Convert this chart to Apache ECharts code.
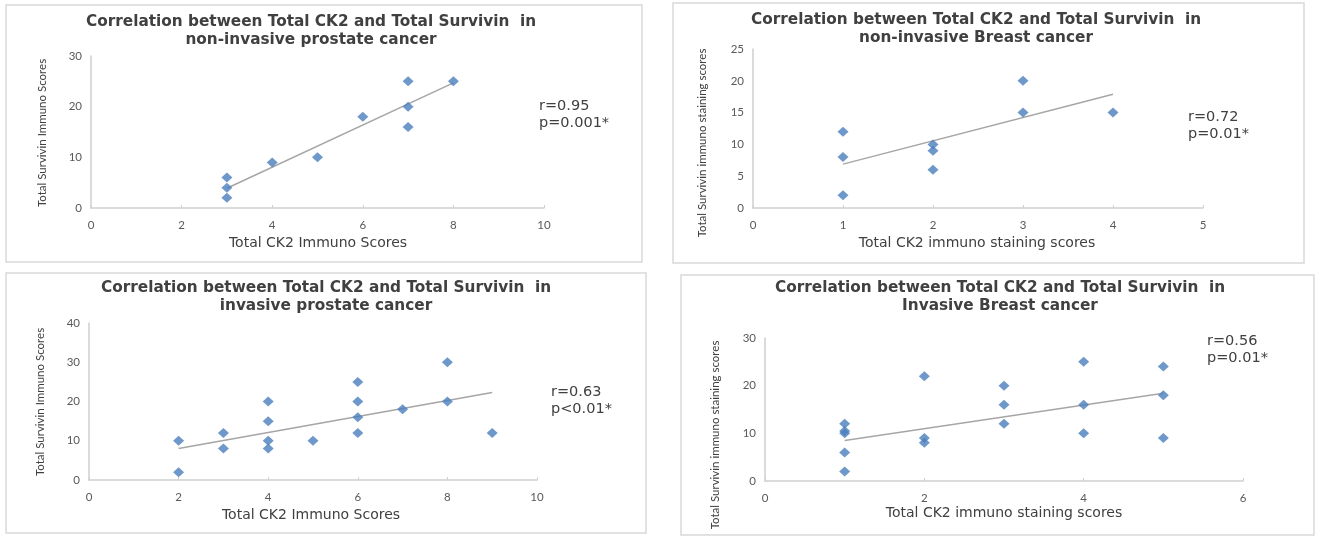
<!DOCTYPE html>
<html><head><meta charset="utf-8">
<script src="https://cdn.jsdelivr.net/npm/echarts@6/dist/echarts.min.js"></script>
<style>html,body{margin:0;padding:0;background:#fff}#c{width:1318px;height:538px}</style>
</head><body><div id="c"></div>
<script>
// ---- Data ----
const titles = [
  ['Correlation between Total CK2 and Total Survivin  in', 'non-invasive prostate cancer'],
  ['Correlation between Total CK2 and Total Survivin  in', 'non-invasive Breast cancer'],
  ['Correlation between Total CK2 and Total Survivin  in', 'invasive prostate cancer'],
  ['Correlation between Total CK2 and Total Survivin  in', 'Invasive Breast cancer']
];
const xNames = ['Total CK2 Immuno Scores', 'Total CK2 immuno staining scores', 'Total CK2 Immuno Scores', 'Total CK2 immuno staining scores'];
const yNames = ['Total Survivin Immuno Scores', 'Total Survivin immuno staining scores', 'Total Survivin Immuno Scores', 'Total Survivin immuno staining scores'];
const stats = [['r=0.95', 'p=0.001*'], ['r=0.72', 'p=0.01*'], ['r=0.63', 'p<0.01*'], ['r=0.56', 'p=0.01*']];

const p1X = [3, 3, 3, 4, 5, 6, 7, 7, 7, 8];
const p1Y = [2, 4, 6, 9, 10, 18, 25, 20, 16, 25];
const p2X = [1, 1, 1, 2, 2, 2, 3, 3, 4];
const p2Y = [2, 8, 12, 6, 9, 10, 15, 20, 15];
const p3X = [2, 2, 3, 3, 4, 4, 4, 4, 5, 6, 6, 6, 6, 7, 8, 8, 9];
const p3Y = [10, 2, 12, 8, 20, 15, 10, 8, 10, 25, 20, 16, 12, 18, 30, 20, 12];
const p4X = [1, 1, 1, 1, 1, 2, 2, 2, 3, 3, 3, 4, 4, 4, 5, 5, 5];
const p4Y = [2, 6, 10, 10.5, 12, 22, 9, 8, 20, 16, 12, 25, 16, 10, 24, 18, 9];

// trendline endpoints
const trendX = [[3, 8], [1, 4], [2, 9], [1, 5]];
const trendY = [[3.9, 24.7], [6.9, 17.9], [8.0, 22.3], [8.5, 18.4]];

// axis ranges
const xMax = [10, 5, 10, 6];
const xStep = [2, 1, 2, 2];
const yMax = [30, 25, 40, 30];
const yStep = [10, 5, 10, 10];

// ---- Layout ----
const grids = [
  {left: 91, top: 56, width: 453, height: 152},
  {left: 753, top: 49, width: 450, height: 159},
  {left: 89, top: 323, width: 448, height: 157},
  {left: 765, top: 338, width: 478, height: 143}
];
const boxes = [
  {x: 6, y: 5, w: 636, h: 257},
  {x: 673, y: 3, w: 631, h: 260},
  {x: 6, y: 273, w: 640, h: 260},
  {x: 681, y: 275, w: 633, h: 260}
];
const titlePos = [[311, 13], [976, 11], [326, 279], [1000, 279]];
const statPos = [[539, 107], [1188, 118], [551, 393], [1207, 342]];
const xNamePos = [[318, 243], [977, 243], [311, 515], [1004, 513]];
const yNamePos = [[42, 133], [702, 143], [40, 402], [715, 435]];

const xs = [p1X, p2X, p3X, p4X];
const ys = [p1Y, p2Y, p3Y, p4Y];

const font = 'Lato, "Open Sans", sans-serif';
const wide = '"DejaVu Sans", Verdana, sans-serif';
const axisCol = '#cfcfcf';
const labCol = '#595959';

const option = {
  animation: false,
  backgroundColor: '#fff',
  title: titles.map((t, i) => ({
    text: t.join('\n'),
    left: titlePos[i][0], top: titlePos[i][1], padding: 0,
    textAlign: 'center',
    textStyle: {fontFamily: wide, fontWeight: 'bold', fontSize: 15.3, color: '#404040', lineHeight: 18}
  })),
  grid: grids.map(g => Object.assign({containLabel: false}, g)),
  xAxis: grids.map((g, i) => ({
    type: 'value', gridIndex: i, min: 0, max: xMax[i], interval: xStep[i],
    axisLine: {show: true, onZero: false, lineStyle: {color: axisCol, width: 1.5}},
    axisTick: {show: true, inside: true, length: 3, lineStyle: {color: axisCol}},
    splitLine: {show: false},
    axisLabel: {color: labCol, fontFamily: font, fontSize: 11.5, margin: 11}
  })),
  yAxis: grids.map((g, i) => ({
    type: 'value', gridIndex: i, min: 0, max: yMax[i], interval: yStep[i],
    axisLine: {show: true, lineStyle: {color: axisCol, width: 1.5}},
    axisTick: {show: false},
    splitLine: {show: false},
    axisLabel: {color: labCol, fontFamily: font, fontSize: 11.5, margin: 9}
  })),
  series: [].concat(
    xs.map((arr, i) => ({
      type: 'line', xAxisIndex: i, yAxisIndex: i,
      data: trendX[i].map((x, k) => [x, trendY[i][k]]),
      showSymbol: false, symbol: 'none',
      lineStyle: {color: '#a6a6a6', width: 1.5}, z: 1
    })),
    xs.map((arr, i) => ({
      type: 'scatter', xAxisIndex: i, yAxisIndex: i,
      data: arr.map((x, k) => [x, ys[i][k]]),
      symbol: 'diamond', symbolSize: [11, 10],
      itemStyle: {color: '#4a7ebb'}, z: 3
    }))
  ),
  graphic: [].concat(
    boxes.map(b => ({
      type: 'rect', shape: {x: b.x, y: b.y, width: b.w, height: b.h}, silent: true,
      style: {fill: null, stroke: '#d9d9d9', lineWidth: 1.5}, z: -1
    })),
    stats.map((s, i) => ({
      type: 'text', left: statPos[i][0], top: statPos[i][1] - 9, silent: true,
      style: {text: s.join('\n'), fill: '#404040', font: '14.5px ' + wide, lineHeight: 17}
    })),
    xNames.map((n, i) => ({
      type: 'text', x: xNamePos[i][0], y: xNamePos[i][1], silent: true,
      style: {text: n, fill: '#404040', font: '14px ' + wide, textAlign: 'center', textVerticalAlign: 'middle'}
    })),
    yNames.map((n, i) => ({
      type: 'text', x: yNamePos[i][0], y: yNamePos[i][1], rotation: Math.PI / 2, silent: true,
      style: {text: n, fill: '#404040', font: '11.5px ' + font, textAlign: 'center', textVerticalAlign: 'middle'}
    }))
  )
};

const chart = echarts.init(document.getElementById('c'), null, {renderer: 'canvas'});
chart.setOption(option);
</script>
</body></html>
